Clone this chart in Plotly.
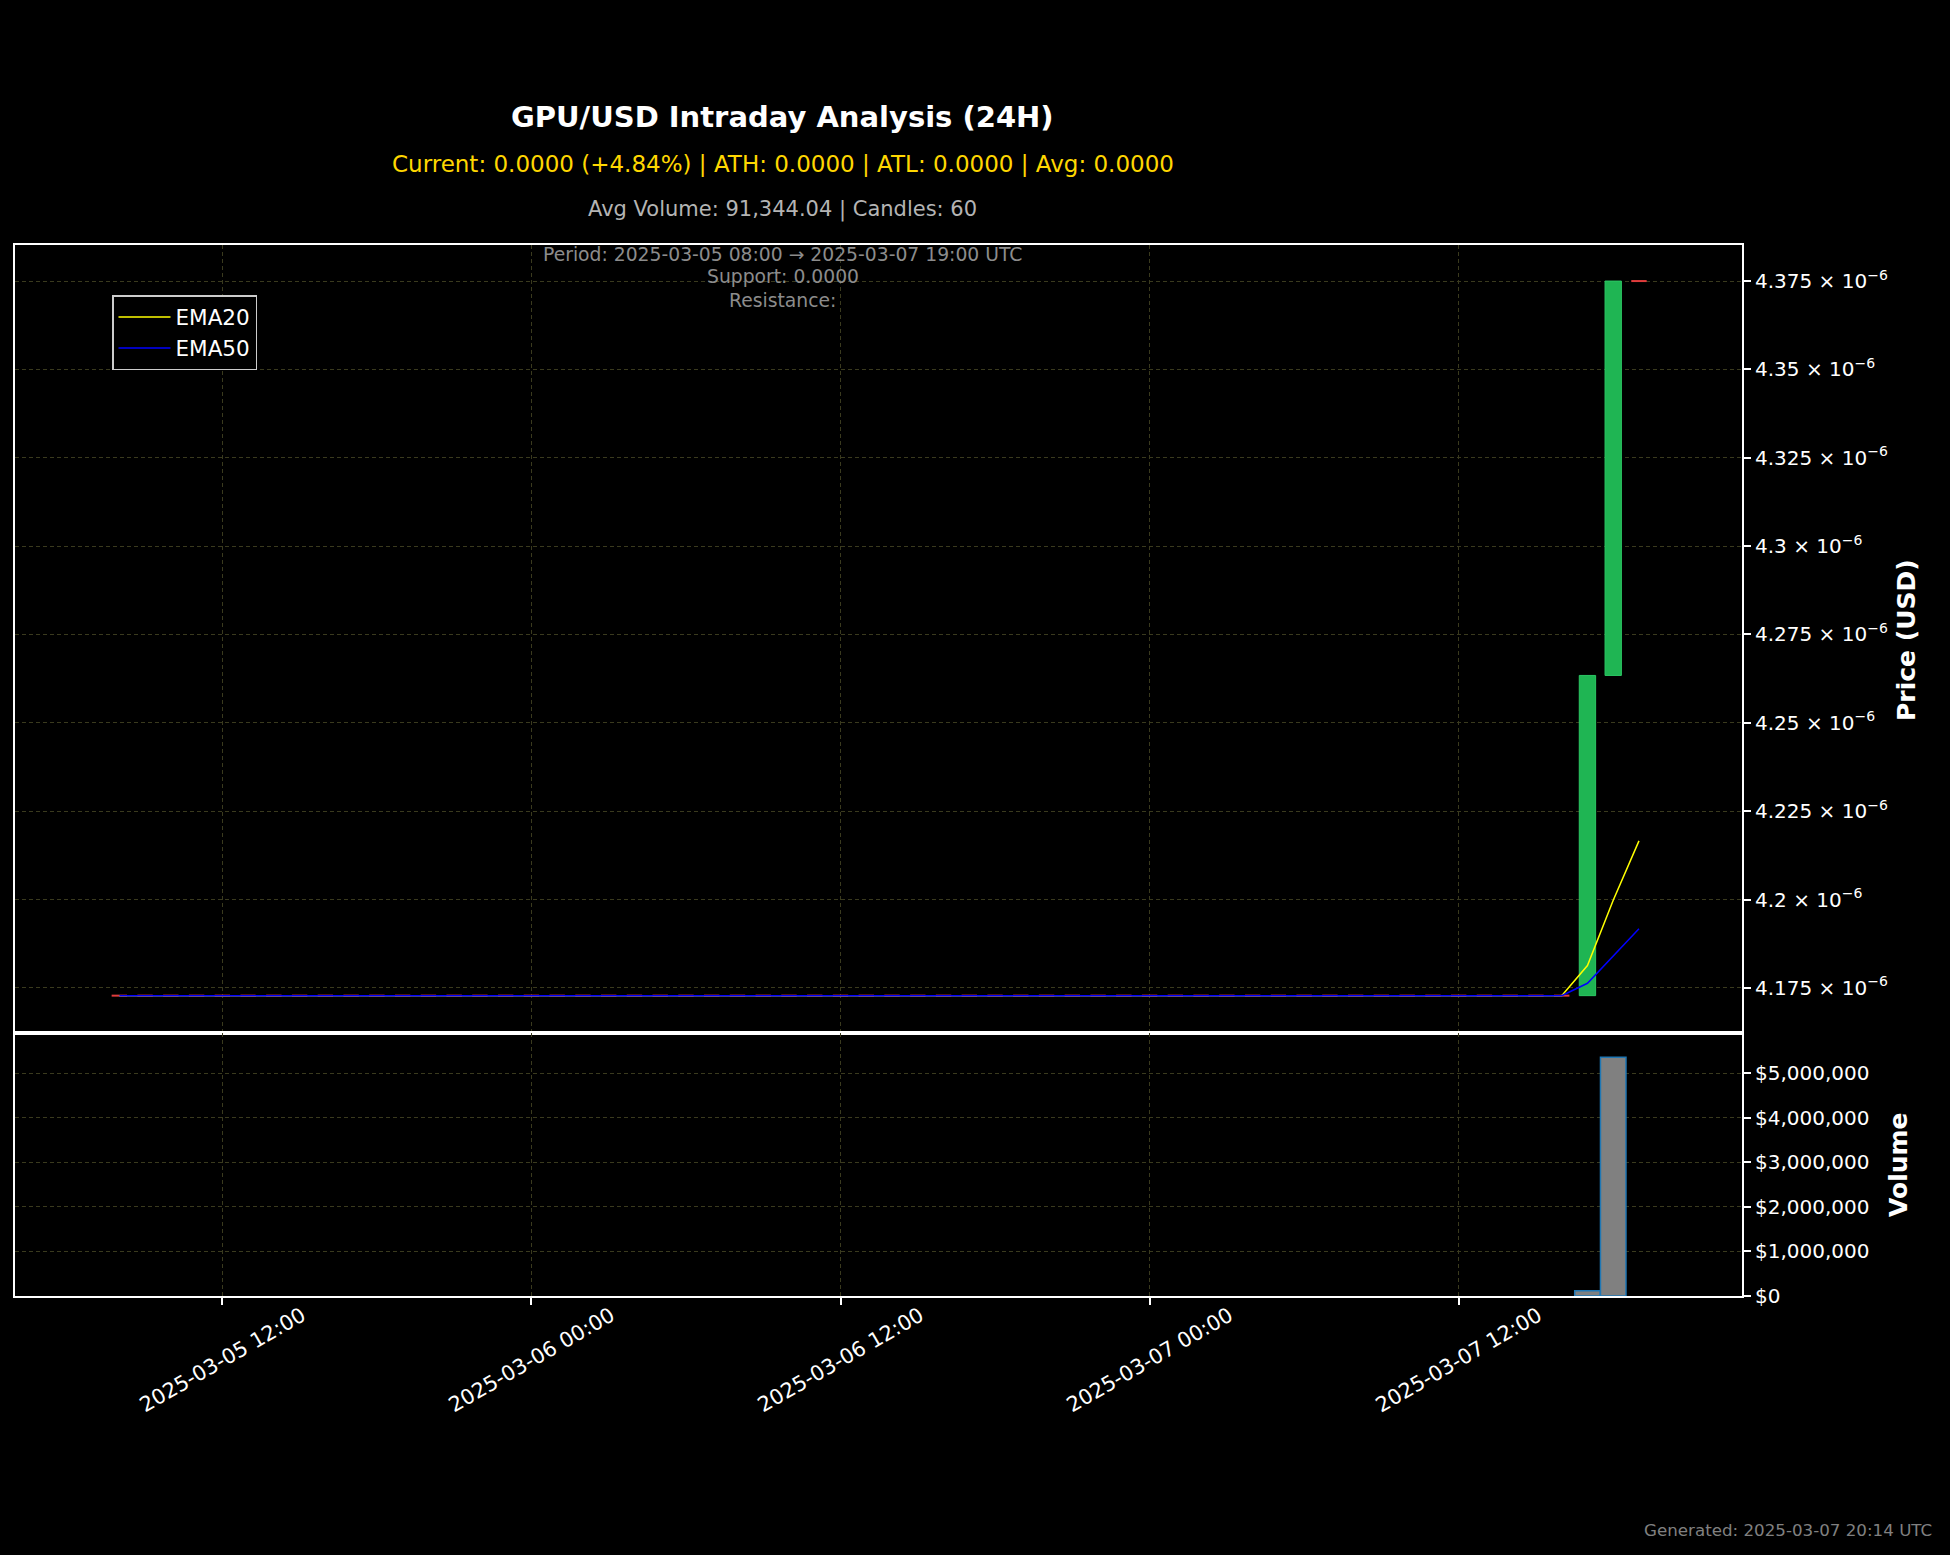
import plotly.graph_objects as go
import pandas as pd

# ---------------- data (prices in micro-USD, i.e. x 1e-6) ----------------
PRICE_UNIT = 1e-6
START = "2025-03-05 08:00"
END = "2025-03-07 19:00"
TIMES = pd.date_range(START, END, freq="h")  # 60 hourly candles

OPEN = [
    4.1728, 4.1728, 4.1728, 4.1728, 4.1728, 4.1728, 4.1728, 4.1728, 4.1728, 4.1728, 4.1728, 4.1728,
    4.1728, 4.1728, 4.1728, 4.1728, 4.1728, 4.1728, 4.1728, 4.1728, 4.1728, 4.1728, 4.1728, 4.1728,
    4.1728, 4.1728, 4.1728, 4.1728, 4.1728, 4.1728, 4.1728, 4.1728, 4.1728, 4.1728, 4.1728, 4.1728,
    4.1728, 4.1728, 4.1728, 4.1728, 4.1728, 4.1728, 4.1728, 4.1728, 4.1728, 4.1728, 4.1728, 4.1728,
    4.1728, 4.1728, 4.1728, 4.1728, 4.1728, 4.1728, 4.1728, 4.1728, 4.1728,
    4.1728, 4.2634, 4.3750,
]
CLOSE = [
    4.1728, 4.1728, 4.1728, 4.1728, 4.1728, 4.1728, 4.1728, 4.1728, 4.1728, 4.1728, 4.1728, 4.1728,
    4.1728, 4.1728, 4.1728, 4.1728, 4.1728, 4.1728, 4.1728, 4.1728, 4.1728, 4.1728, 4.1728, 4.1728,
    4.1728, 4.1728, 4.1728, 4.1728, 4.1728, 4.1728, 4.1728, 4.1728, 4.1728, 4.1728, 4.1728, 4.1728,
    4.1728, 4.1728, 4.1728, 4.1728, 4.1728, 4.1728, 4.1728, 4.1728, 4.1728, 4.1728, 4.1728, 4.1728,
    4.1728, 4.1728, 4.1728, 4.1728, 4.1728, 4.1728, 4.1728, 4.1728, 4.1728,
    4.2634, 4.3750, 4.3750,
]
EMA20 = [
    4.1728, 4.1728, 4.1728, 4.1728, 4.1728, 4.1728, 4.1728, 4.1728, 4.1728, 4.1728, 4.1728, 4.1728,
    4.1728, 4.1728, 4.1728, 4.1728, 4.1728, 4.1728, 4.1728, 4.1728, 4.1728, 4.1728, 4.1728, 4.1728,
    4.1728, 4.1728, 4.1728, 4.1728, 4.1728, 4.1728, 4.1728, 4.1728, 4.1728, 4.1728, 4.1728, 4.1728,
    4.1728, 4.1728, 4.1728, 4.1728, 4.1728, 4.1728, 4.1728, 4.1728, 4.1728, 4.1728, 4.1728, 4.1728,
    4.1728, 4.1728, 4.1728, 4.1728, 4.1728, 4.1728, 4.1728, 4.1728, 4.1728,
    4.1813, 4.1998, 4.2166,
]
EMA50 = [
    4.1728, 4.1728, 4.1728, 4.1728, 4.1728, 4.1728, 4.1728, 4.1728, 4.1728, 4.1728, 4.1728, 4.1728,
    4.1728, 4.1728, 4.1728, 4.1728, 4.1728, 4.1728, 4.1728, 4.1728, 4.1728, 4.1728, 4.1728, 4.1728,
    4.1728, 4.1728, 4.1728, 4.1728, 4.1728, 4.1728, 4.1728, 4.1728, 4.1728, 4.1728, 4.1728, 4.1728,
    4.1728, 4.1728, 4.1728, 4.1728, 4.1728, 4.1728, 4.1728, 4.1728, 4.1728, 4.1728, 4.1728, 4.1728,
    4.1728, 4.1728, 4.1728, 4.1728, 4.1728, 4.1728, 4.1728, 4.1728, 4.1728,
    4.1763, 4.1840, 4.1917,
]
VOLUME = [
    0, 0, 0, 0, 0, 0, 0, 0, 0, 0, 0, 0,
    0, 0, 0, 0, 0, 0, 0, 0, 0, 0, 0, 0,
    0, 0, 0, 0, 0, 0, 0, 0, 0, 0, 0, 0,
    0, 0, 0, 0, 0, 0, 0, 0, 0, 0, 0, 0,
    0, 0, 0, 0, 0, 0, 0, 0, 0,
    120642, 5360000, 0,
]

X_TICKS = ["2025-03-05 12:00", "2025-03-06 00:00", "2025-03-06 12:00",
           "2025-03-07 00:00", "2025-03-07 12:00"]
X_RANGE = ["2025-03-05 03:57", "2025-03-07 23:00"]
PRICE_TICKS = [4.175, 4.2, 4.225, 4.25, 4.275, 4.3, 4.325, 4.35, 4.375]
PRICE_TICK_LABELS = ["4.175", "4.2", "4.225", "4.25", "4.275", "4.3", "4.325", "4.35", "4.375"]
PRICE_RANGE = [4.1621, 4.3852]
VOLUME_TICKS = [0, 1000000, 2000000, 3000000, 4000000, 5000000]
VOLUME_TICK_LABELS = ["$0", "$1,000,000", "$2,000,000", "$3,000,000", "$4,000,000", "$5,000,000"]
VOLUME_RANGE = [0, 5896000]

TITLE = "GPU/USD Intraday Analysis (24H)"
SUBTITLE = "Current: 0.0000 (+4.84%) | ATH: 0.0000 | ATL: 0.0000 | Avg: 0.0000"
SUBTITLE2 = "Avg Volume: 91,344.04 | Candles: 60"
INFO_LINES = ["Period: 2025-03-05 08:00 \u2192 2025-03-07 19:00 UTC",
              "Support: 0.0000", "Resistance:"]
FOOTER = "Generated: 2025-03-07 20:14 UTC"

# ---------------- styling ----------------
FONT = "DejaVu Sans"
W, H = 1950, 1555
L, R, T, B = 15, 1742, 245, 1296
VOL_FRAC = 0.2498
GREEN, GREEN_EDGE = "#1fb553", "#2cc764"
RED = "#e03c3c"
GRID = "#3a3a1e"
HOUR_MS = 3600 * 1000


def pxx(x):
    return (x - L) / (R - L)


def pxy(y):
    return (B - y) / (B - T)


fig = go.Figure()

# candle bodies
t_list = list(TIMES)
up_x, up_base, up_h = [], [], []
dn_x, dn_base, dn_h = [], [], []
flat_x, flat_y = [], []
for t, o, c in zip(t_list, OPEN, CLOSE):
    if c > o:
        up_x.append(t); up_base.append(o * PRICE_UNIT); up_h.append((c - o) * PRICE_UNIT)
    elif c < o:
        dn_x.append(t); dn_base.append(c * PRICE_UNIT); dn_h.append((o - c) * PRICE_UNIT)
    else:
        flat_x.append(t); flat_y.append(o * PRICE_UNIT)

fig.add_trace(go.Scatter(x=flat_x, y=flat_y, mode="markers", showlegend=False,
                         marker=dict(symbol="line-ew", size=11, color=RED,
                                     line=dict(color=RED, width=2)),
                         xaxis="x", yaxis="y", hoverinfo="skip"))
fig.add_trace(go.Bar(x=up_x, y=up_h, base=up_base, width=0.635 * HOUR_MS,
                     marker=dict(color=GREEN, line=dict(color=GREEN_EDGE, width=1)),
                     showlegend=False, xaxis="x", yaxis="y"))
if dn_x:
    fig.add_trace(go.Bar(x=dn_x, y=dn_h, base=dn_base, width=0.635 * HOUR_MS,
                         marker=dict(color=RED, line=dict(color=RED, width=1)),
                         showlegend=False, xaxis="x", yaxis="y"))

fig.add_trace(go.Scatter(x=t_list, y=[v * PRICE_UNIT for v in EMA20], mode="lines",
                         name="EMA20", line=dict(color="#ffff00", width=1.5),
                         xaxis="x", yaxis="y"))
fig.add_trace(go.Scatter(x=t_list, y=[v * PRICE_UNIT for v in EMA50], mode="lines",
                         name="EMA50", line=dict(color="#0000ff", width=1.5),
                         xaxis="x", yaxis="y"))

# volume
vol_x = [t for t, v in zip(t_list, VOLUME) if v > 0]
vol_y = [v for v in VOLUME if v > 0]
fig.add_trace(go.Bar(x=vol_x, y=vol_y, width=0.99 * HOUR_MS,
                     marker=dict(color="#808080", line=dict(color="#1f77b4", width=1.5)),
                     showlegend=False, xaxis="x2", yaxis="y2"))

axis_common = dict(showline=True, mirror=True, linecolor="white", linewidth=2,
                   showgrid=True, gridcolor=GRID, griddash="4px,3px", gridwidth=1,
                   zeroline=False, ticklen=7, tickcolor="white",
                   tickwidth=1.5, tickfont=dict(family=FONT, size=20, color="white"))

fig.update_layout(
    width=W, height=H,
    paper_bgcolor="black", plot_bgcolor="black",
    margin=dict(l=L, r=W - R, t=T, b=H - B),
    barmode="overlay",
    font=dict(family=FONT, color="white"),
    xaxis=dict(**axis_common, ticks="", type="date", range=X_RANGE, tickvals=X_TICKS,
               showticklabels=False, anchor="y", domain=[0, 1]),
    xaxis2=dict(**axis_common, ticks="outside", type="date", range=X_RANGE,
                tickvals=X_TICKS, showticklabels=False, anchor="y2",
                matches="x", domain=[0, 1]),
    yaxis=dict(**axis_common, ticks="outside", side="right", domain=[VOL_FRAC, 1],
               anchor="x", range=[v * PRICE_UNIT for v in PRICE_RANGE],
               tickvals=[v * PRICE_UNIT for v in PRICE_TICKS],
               ticktext=[f"{s} \u00d7 10<sup>\u22126</sup>" for s in PRICE_TICK_LABELS]),
    yaxis2=dict(**axis_common, ticks="outside", side="right", domain=[0, VOL_FRAC],
                anchor="x2", range=VOLUME_RANGE, tickvals=VOLUME_TICKS,
                ticktext=VOLUME_TICK_LABELS),
    legend=dict(x=pxx(112), y=pxy(295), xanchor="left", yanchor="top",
                bgcolor="black", bordercolor="#cccccc", borderwidth=1.5,
                font=dict(family=FONT, size=21.5, color="white"), itemwidth=52,
                tracegroupgap=0),
    showlegend=True,
)

ann = []
ann.append(dict(text=f"<b>{TITLE}</b>", x=pxx(782.5), y=pxy(117),
                font=dict(family=FONT, size=29, color="white")))
ann.append(dict(text=SUBTITLE, x=pxx(782.5), y=pxy(164),
                font=dict(family=FONT, size=23, color="#FFD700")))
ann.append(dict(text=SUBTITLE2, x=pxx(782.5), y=pxy(210),
                font=dict(family=FONT, size=21, color="#b4b4b4")))
for line, yy in zip(INFO_LINES, [255, 277, 300]):
    ann.append(dict(text=line, x=pxx(782.5), y=pxy(yy),
                    font=dict(family=FONT, size=18.75, color="#8c8c8c")))
ann.append(dict(text=FOOTER, x=pxx(1934), y=pxy(1530), xanchor="right",
                font=dict(family=FONT, size=16.7, color="#808080")))
ann.append(dict(text="<b>Price (USD)</b>", x=pxx(1906), y=pxy(640), textangle=-90,
                font=dict(family=FONT, size=25, color="white")))
ann.append(dict(text="<b>Volume</b>", x=pxx(1898), y=pxy(1165), textangle=-90,
                font=dict(family=FONT, size=25, color="white")))
for a in ann:
    a.setdefault("xanchor", "center")
    a.update(xref="paper", yref="paper", yanchor="middle", showarrow=False)

# rotated x tick labels, centred on their ticks (as in the reference)
for tv in X_TICKS:
    ann.append(dict(text=tv, x=tv, xref="x2", y=pxy(1360), yref="paper",
                    textangle=-30, xanchor="center", yanchor="middle",
                    showarrow=False, font=dict(family=FONT, size=20.8, color="white")))

fig.update_layout(annotations=ann)

fig.write_html("out.html")
